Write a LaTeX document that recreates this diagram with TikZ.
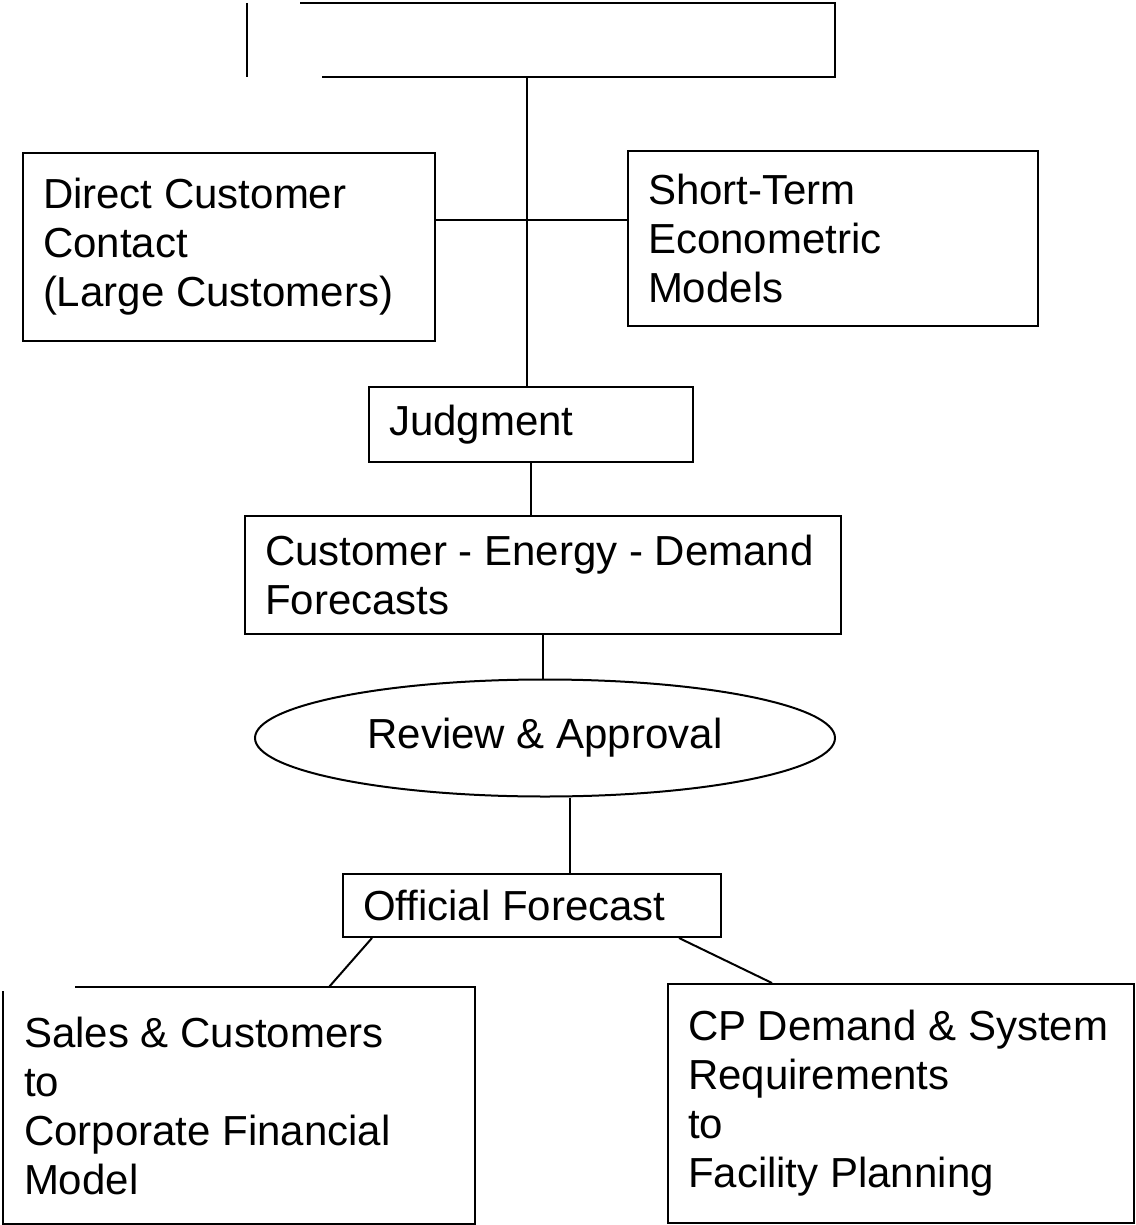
\documentclass[tikz,border=0pt]{standalone}
\usepackage{fontspec}
\setmainfont{Liberation Sans}
\usetikzlibrary{shapes.geometric}

\begin{document}
\begin{tikzpicture}[x=1pt,y=-1pt,line width=2pt,
  every node/.style={font=\fontsize{42}{49}\selectfont},
  box/.style={draw,rectangle,anchor=north west,align=flush left,inner xsep=20pt,inner ysep=0pt},
  oval/.style={draw,ellipse,inner sep=0pt}]
  \useasboundingbox (0,0) rectangle (1135,1225);
  % empty head box, left corners left open
  \node[anchor=north west,inner sep=0pt,minimum width=586,minimum height=72] (head) at (247,3) {};
  \draw (head.north west) -- (head.south west);
  \draw ([xshift=53pt]head.north west) -- (head.north east) -- (head.south east) -- ([xshift=75pt]head.south west);
  \node[box,text width=372,minimum height=188] (direct) at (22,152) {Direct Customer\\Contact\\(Large Customers)};
  \node[box,text width=370,minimum height=175] (shortterm) at (627,150) {Short-Term\\Econometric\\Models};
  \node[box,text width=284,minimum height=75] (judg) at (368,386) {Judgment};
  \node[box,text width=556,minimum height=118] (ced) at (244,515) {Customer - Energy - Demand\\Forecasts};
  \node[oval,minimum width=580,minimum height=117] (review) at (545,738) {Review \& Approval};
  \node[box,text width=338,minimum height=63] (official) at (342,873) {Official Forecast};
  \node[box,draw=none,text width=430,minimum height=235] (sales) at (3,987) {Sales \& Customers\\to\\Corporate Financial\\Model};
  \node[box,text width=426,minimum height=239] (cp) at (667,983) {CP Demand \& System\\Requirements\\to\\Facility Planning};
  % sales box, top left corner open
  \draw ([xshift=72pt]sales.north west) -- (sales.north east) -- (sales.south east) -- (sales.south west) -- ([yshift=-4pt]sales.north west);

  % connectors
  \coordinate (hub) at (527,220);
  \draw (head.south -| hub) -- (judg.north -| hub);
  \draw (direct.east |- hub) -- (shortterm.west |- hub);
  \draw (judg.south) -- (judg.south |- ced.north);
  \draw (ced.south) -- (ced.south |- review.north);
  \draw ([xshift=25pt]review.south) -- ([xshift=25pt]review.south |- official.north);
  \draw ([xshift=30pt]official.south west) -- ([xshift=-146pt]sales.north east);
  \draw ([xshift=-43pt]official.south east) -- ([xshift=105pt]cp.north west);
\end{tikzpicture}
\end{document}
